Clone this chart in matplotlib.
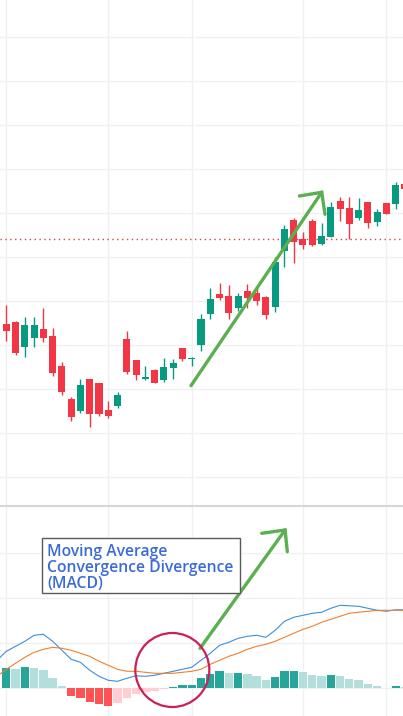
import numpy as np
import matplotlib
matplotlib.use("Agg")
import matplotlib.pyplot as plt
from matplotlib.patches import Ellipse, Rectangle

# ---------------- data ----------------
opens = [67.6, 67.8, 65.3, 66.2, 67.1, 66.4, 63.4, 60.1, 58.9, 62.1, 61.7, 59.0, 59.4, 66.1, 64.0,
         62.1, 63.0, 62.0, 63.2, 65.2, 64.1, 65.5, 68.6, 70.6, 70.4, 69.2, 70.9, 70.7, 70.3, 69.3,
         74.9, 78.0, 76.1, 77.9, 75.6, 76.3, 79.9, 79.2, 78.2, 79.8, 77.8, 79.7, 79.6, 81.6]
highs = [69.5, 67.9, 68.3, 68.3, 69.2, 67.2, 63.8, 60.3, 62.1, 62.1, 61.7, 59.9, 60.8, 66.9, 64.0,
         63.4, 63.1, 64.2, 64.1, 65.2, 64.3, 68.6, 71.2, 71.7, 71.5, 70.7, 71.6, 71.3, 70.4, 74.3,
         77.5, 78.2, 76.8, 78.1, 77.7, 79.8, 80.3, 80.3, 80.2, 79.8, 79.1, 79.7, 81.8, 82.0]
lows = [65.9, 64.5, 64.3, 65.3, 65.8, 62.4, 60.5, 57.9, 58.7, 57.3, 58.4, 58.2, 59.2, 62.6, 62.0,
        62.0, 61.7, 61.8, 62.1, 63.9, 63.4, 64.9, 68.1, 70.0, 68.1, 68.9, 69.2, 69.5, 68.1, 68.8,
        73.3, 73.7, 75.1, 75.4, 75.5, 76.3, 77.9, 76.1, 78.0, 77.2, 77.4, 78.6, 79.1, 80.8]
closes = [66.9, 64.7, 67.5, 67.5, 66.2, 62.7, 60.8, 58.3, 61.5, 58.6, 58.6, 58.4, 60.5, 62.8, 62.5,
          62.3, 61.7, 63.3, 63.7, 64.1, 64.2, 68.1, 70.1, 70.2, 68.7, 70.4, 70.2, 69.9, 68.5, 73.8,
          77.1, 75.8, 75.5, 75.5, 76.4, 79.3, 79.1, 77.6, 79.0, 77.7, 78.8, 78.6, 81.5, 81.1]
last_price = 76.1

# MACD pane (lines start one bar before the first visible candle)
macd_line = [2.8, 3.7, 4.2, 4.7, 5.3, 5.4, 4.7, 3.8, 2.9, 2.6, 1.8, 1.2, 0.8, 0.7, 1.0, 1.25,
             1.2, 1.3, 1.5, 1.7, 1.9, 2.1, 2.8, 3.5, 4.3, 4.6, 5.0, 5.2, 5.3, 5.1, 5.8, 6.7,
             7.1, 7.3, 7.5, 7.6, 8.0, 8.3, 8.25, 8.2, 8.0, 7.8, 7.7, 7.85, 7.85]
signal_line = [1.2, 1.9, 2.5, 3.1, 3.6, 3.9, 4.1, 4.0, 3.8, 3.5, 3.2, 2.7, 2.3, 1.9, 1.7, 1.7,
               1.6, 1.5, 1.5, 1.5, 1.6, 1.7, 1.9, 2.4, 2.8, 3.2, 3.5, 3.9, 4.2, 4.4, 4.7, 5.1,
               5.5, 5.9, 6.2, 6.6, 6.9, 7.2, 7.5, 7.6, 7.7, 7.8, 7.8, 7.8, 7.8]
histogram = [2.0, 1.95, 2.1, 2.05, 1.8, 1.0, 0.2, -0.8, -1.0, -1.4, -1.6, -1.75, -1.45, -1.0,
             -0.6, -0.4, -0.25, -0.1, 0.15, 0.35, 0.38, 1.0, 1.45, 1.7, 1.5, 1.55, 1.4, 1.2,
             0.8, 1.1, 1.7, 1.75, 1.6, 1.3, 1.2, 1.3, 1.25, 0.9, 0.8, 0.4, 0.2, 0.05, 0.2, 0.1]
period_starts = [0, 11, 20, 32, 41]
label_lines = ["Moving Average", "Convergence Divergence", "(MACD)"]

# ---------------- styling ----------------
UP = "#089981"
DOWN = "#f23645"
GRID = "#f0f0f0"
W, H = 403, 716

fig = plt.figure(figsize=(W / 100, H / 100), dpi=100)
fig.patch.set_facecolor("white")
split = 506
ax = fig.add_axes([0, 1 - split / H, 1, split / H])
ax2 = fig.add_axes([0, 0, 1, 1 - split / H])

n = len(opens)
x = np.arange(n)
xlim = (-0.68, 42.79)

for a in (ax, ax2):
    a.set_xlim(*xlim)
    for s in a.spines.values():
        s.set_visible(False)
    a.set_xticks([])
    a.set_yticks([])
    for p in period_starts:
        a.axvline(p, color=GRID, lw=1, zorder=0)

# ---- main pane ----
ax.set_ylim(49.4, 100)
for g in np.arange(96.3, 50, -4.4):
    ax.axhline(g, color=GRID, lw=1, zorder=0)

o = np.array(opens); c = np.array(closes); h = np.array(highs); l = np.array(lows)
cols = np.where(c >= o, UP, DOWN)
ax.vlines(x, l, h, colors=cols, lw=1.0, zorder=2)
body_h = np.maximum(np.abs(c - o), 0.12)
ax.bar(x, body_h, bottom=np.minimum(o, c), width=0.76, color=cols, zorder=3, linewidth=0)

ax.axhline(last_price, color=DOWN, lw=1.0, ls=(0, (1, 2.5)), zorder=1)

ARROW = "#5ab04f"
# annotation arrow on the price pane
ax.plot([19.92, 34.02], [61.43, 80.77], color=ARROW, lw=2.4, solid_capstyle="round", zorder=5)
ax.plot([31.61, 34.02, 34.38], [80.4, 80.77, 78.57], color=ARROW, lw=2.4,
        solid_capstyle="round", solid_joinstyle="miter", zorder=5)

# ---- MACD pane ----
ax2.set_ylim(-2.77, 18.23)
for g in [0.0, 4.5, 9.0, 13.5]:
    ax2.axhline(g, color=GRID, lw=1, zorder=0)

hist = np.array(histogram)
hcols = []
for i, v in enumerate(hist):
    prev = hist[i - 1] if i > 0 else None
    if v >= 0:
        hcols.append("#26a69a" if (prev is None or v > prev) else "#b2dfdb")
    else:
        hcols.append("#ff5252" if (prev is None or v < prev) else "#ffcdd2")
ax2.bar(x, hist, width=0.9, color=hcols, linewidth=0, zorder=2)

xl = np.arange(-1, n)
ax2.plot(xl, macd_line, color="#3d8fdc", lw=0.8, zorder=3)
ax2.plot(xl, signal_line, color="#f08030", lw=0.8, zorder=3)

ax2.add_patch(Ellipse((17.91, 1.83), 7.98, 7.4, fill=False, ec="#cc1f5a", lw=1.6, zorder=6))
ax2.plot([20.9, 30.07], [4.0, 15.83], color=ARROW, lw=2.4, solid_capstyle="round", zorder=5)
ax2.plot([27.55, 30.07, 30.31], [15.5, 15.83, 13.66], color=ARROW, lw=2.4,
         solid_capstyle="round", solid_joinstyle="miter", zorder=5)

# pane separator
fig.add_artist(plt.Line2D([0, 1], [1 - split / H, 1 - split / H], color="#d6d6d6", lw=1.5))

# label box
fig.add_artist(Rectangle((42 / W, 1 - 593 / H), 197.7 / W, 55 / H, fill=True, fc="white",
                         ec="#5a5a5a", lw=1.0, transform=fig.transFigure, zorder=7))
for k, t in enumerate(label_lines):
    fig.text(47.0 / W, 1 - (556.0 + 15.8 * k) / H, t, ha="left", va="baseline",
             fontsize=11.3, fontweight="semibold", family=["Open Sans", "DejaVu Sans"],
             color="#3b6cd6", zorder=8)

fig.savefig("out.png", dpi=100, facecolor="white")
